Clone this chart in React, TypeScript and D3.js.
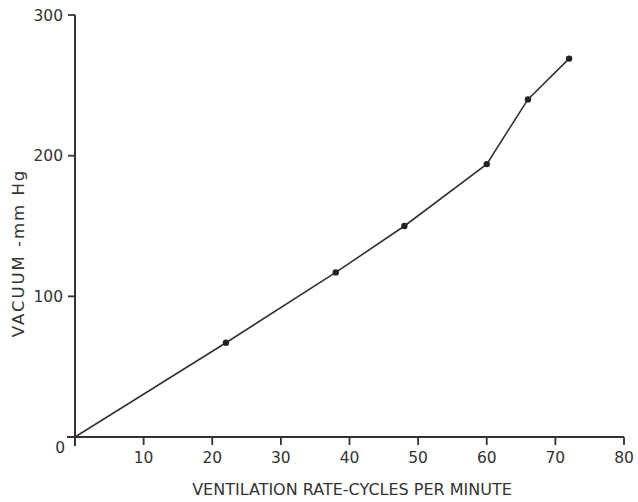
import { useEffect, useRef } from 'react';
import * as d3 from 'd3';

// readings taken off the curve
const rate = [0, 22, 38, 48, 60, 66, 72];
const vacuum = [0, 67, 117, 150, 194, 240, 269];
const xTicks = [10, 20, 30, 40, 50, 60, 70, 80];
const yTicks = [0, 100, 200, 300];

const App = () => {
  const svgRef = useRef(null);

  useEffect(() => {
    const svg = d3.select(svgRef.current);
    svg.selectAll('*').remove();

    const x = d3.scaleLinear().domain([0, 80]).range([75, 624]);
    const y = d3.scaleLinear().domain([0, 300]).range([437, 15]);
    const ink = '#333';
    const font = '"DejaVu Sans", sans-serif';

    // y axis, ticks point left
    svg.append('line')
      .attr('x1', x(0)).attr('x2', x(0))
      .attr('y1', y(300)).attr('y2', y(0) + 9)
      .attr('stroke', ink).attr('stroke-width', 2);
    yTicks.filter(d => d > 0).forEach(d => {
      svg.append('line')
        .attr('x1', x(0) - 7).attr('x2', x(0))
        .attr('y1', y(d)).attr('y2', y(d))
        .attr('stroke', ink).attr('stroke-width', 1.8);
      svg.append('text')
        .attr('x', x(0) - 12).attr('y', y(d))
        .attr('dy', '0.36em')
        .attr('text-anchor', 'end')
        .style('font-family', font).style('font-size', '15.5px')
        .attr('fill', ink)
        .text(d);
    });
    svg.append('text')
      .attr('x', x(0) - 10).attr('y', y(0) + 16)
      .attr('text-anchor', 'end')
      .style('font-family', font).style('font-size', '15.5px')
      .attr('fill', ink)
      .text('0');

    // x axis, ticks point down
    svg.append('line')
      .attr('x1', x(0) - 8).attr('x2', x(80))
      .attr('y1', y(0)).attr('y2', y(0))
      .attr('stroke', ink).attr('stroke-width', 2);
    xTicks.forEach(d => {
      svg.append('line')
        .attr('x1', x(d)).attr('x2', x(d))
        .attr('y1', y(0)).attr('y2', y(0) + 8)
        .attr('stroke', ink).attr('stroke-width', 1.8);
      svg.append('text')
        .attr('x', x(d)).attr('y', y(0) + 26)
        .attr('text-anchor', 'middle')
        .style('font-family', font).style('font-size', '15.5px')
        .attr('fill', ink)
        .text(d);
    });

    // axis titles
    svg.append('text')
      .attr('x', 352).attr('y', 495)
      .attr('text-anchor', 'middle')
      .style('font-family', font).style('font-size', '16px')
      .attr('fill', ink)
      .text('VENTILATION RATE-CYCLES PER MINUTE');
    svg.append('text')
      .attr('transform', 'translate(24, 253) rotate(-90)')
      .attr('text-anchor', 'middle')
      .style('font-family', font).style('font-size', '16.5px')
      .style('letter-spacing', '2px')
      .attr('fill', ink)
      .text('VACUUM -mm Hg');

    // curve
    const pts = rate.map((r, i) => [r, vacuum[i]]);
    const line = d3.line().x(d => x(d[0])).y(d => y(d[1]));
    svg.append('path')
      .attr('d', line(pts))
      .attr('fill', 'none')
      .attr('stroke', ink)
      .attr('stroke-width', 1.6);

    svg.selectAll('.pt')
      .data(pts.slice(1))
      .enter()
      .append('circle')
      .attr('class', 'pt')
      .attr('cx', d => x(d[0]))
      .attr('cy', d => y(d[1]))
      .attr('r', 3.2)
      .attr('fill', '#222');
  }, []);

  return (
    <svg ref={svgRef} width={638} height={502}
      style={{ position: 'absolute', left: 0, top: 0, background: '#fff' }}></svg>
  );
};

export default App;
